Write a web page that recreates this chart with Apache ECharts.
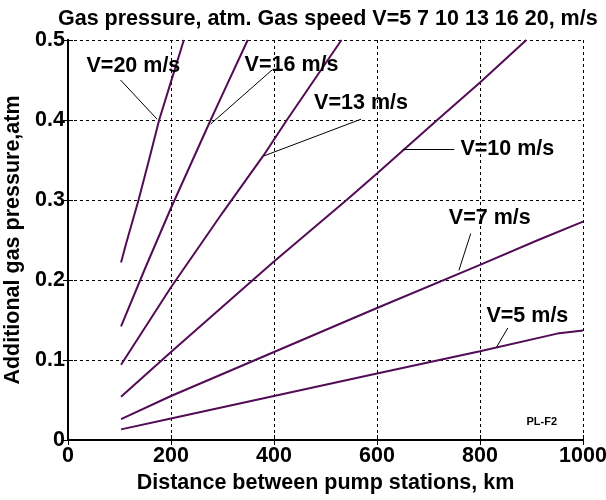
<!DOCTYPE html>
<html>
<head>
<meta charset="utf-8">
<script src="https://cdn.jsdelivr.net/npm/echarts@6/dist/echarts.min.js"></script>
<style>
  html, body { margin: 0; padding: 0; background: #fff; }
  #main { width: 606px; height: 500px; }
</style>
</head>
<body>
<div id="main"></div>
<script>
// distance, km  /  additional pressure, atm
var dist20 = [103, 113, 137, 158, 177, 200, 225];
var pres20 = [0.222, 0.246, 0.300, 0.352, 0.400, 0.448, 0.500];
var dist16 = [103, 150, 200, 277, 300, 349];
var pres16 = [0.142, 0.215, 0.290, 0.400, 0.432, 0.500];
var dist13 = [103, 200, 300, 380, 425, 531];
var pres13 = [0.094, 0.191, 0.284, 0.356, 0.400, 0.500];
var dist10 = [103, 200, 359, 400, 541, 600, 717, 800, 890];
var pres10 = [0.054, 0.110, 0.200, 0.223, 0.300, 0.333, 0.400, 0.447, 0.500];
var dist7 = [103, 200, 400, 600, 800, 913, 1000];
var pres7 = [0.026, 0.055, 0.110, 0.165, 0.219, 0.250, 0.273];
var dist5 = [103, 200, 400, 600, 800, 950, 1000];
var pres5 = [0.0133, 0.027, 0.055, 0.083, 0.111, 0.133, 0.137];

var speedNames = ['V=20 m/s', 'V=16 m/s', 'V=13 m/s', 'V=10 m/s', 'V=7 m/s', 'V=5 m/s'];
// label centre and leader line ends, in data units
var labelAt = [[127, 0.4675], [434, 0.469], [569, 0.421], [853, 0.364], [819, 0.278], [892, 0.155]];
var leaderFrom = [[102, 0.45], [397, 0.463], [569, 0.401], [750, 0.363], [782, 0.258], [854, 0.14]];
var leaderTo = [[173, 0.401], [277, 0.395], [380, 0.355], [650, 0.363], [759, 0.212], [832, 0.116]];

var xTicks = [0, 200, 400, 600, 800, 1000];
var yTicks = [0, 0.1, 0.2, 0.3, 0.4, 0.5];

var font = 'Liberation Sans, Arial, sans-serif';
var lineColor = '#520c56';
var big = 21.5;

function zip(xs, ys) {
    return xs.map(function (x, i) { return [x, ys[i]]; });
}

var curves = [
    zip(dist20, pres20), zip(dist16, pres16), zip(dist13, pres13),
    zip(dist10, pres10), zip(dist7, pres7), zip(dist5, pres5)
];

var series = curves.map(function (pts, i) {
    return {
        name: speedNames[i],
        type: 'line',
        data: pts,
        showSymbol: false,
        symbol: 'none',
        lineStyle: { color: lineColor, width: 2 },
        animation: false,
        markLine: {
            silent: true,
            symbol: ['none', 'none'],
            label: { show: false },
            lineStyle: { color: '#000', width: 1, type: 'solid' },
            data: [[{ coord: leaderFrom[i] }, { coord: leaderTo[i] }]]
        },
        markPoint: {
            silent: true,
            symbol: 'rect',
            symbolSize: 0,
            label: {
                show: true, position: 'inside', formatter: '{b}',
                color: '#000', fontSize: big, fontWeight: 'bold', fontFamily: font
            },
            data: [{ name: speedNames[i], coord: labelAt[i] }]
        }
    };
});

series.push({
    type: 'line',
    data: [],
    markPoint: {
        silent: true,
        symbol: 'rect',
        symbolSize: 0,
        label: {
            show: true, position: 'inside', formatter: '{b}',
            color: '#000', fontSize: 11, fontWeight: 'bold', fontFamily: font
        },
        data: [{ name: 'PL-F2', coord: [920, 0.023] }]
    }
});

var dashed = { show: true, lineStyle: { color: '#000', width: 1, type: [3, 3] } };
var border = { show: true, lineStyle: { color: '#000', width: 2 } };
var inTick = { show: true, inside: true, length: 5, lineStyle: { color: '#000', width: 1 } };

option = {
    backgroundColor: '#fff',
    title: {
        text: 'Gas pressure, atm. Gas speed V=5 7 10 13 16 20, m/s',
        left: 53,
        top: 3,
        textStyle: { fontSize: big, fontWeight: 'bold', color: '#000', fontFamily: font }
    },
    grid: { left: 68, right: 23, top: 40, bottom: 60, outerBoundsMode: 'none', containLabel: false },
    xAxis: [
        {
            type: 'value', min: xTicks[0], max: xTicks[xTicks.length - 1], interval: 200,
            name: 'Distance between pump stations, km',
            nameLocation: 'middle', nameGap: 31,
            nameTextStyle: { fontSize: big, fontWeight: 'bold', color: '#000', fontFamily: font },
            axisLine: border, axisTick: inTick, splitLine: dashed,
            axisLabel: {
                fontSize: big, fontWeight: 'bold', color: '#000', fontFamily: font, margin: 5,
                formatter: function (v) { return String(v); }
            }
        },
        {
            type: 'value', position: 'top', min: 0, max: 1000, interval: 200,
            axisLine: border, axisTick: inTick, splitLine: { show: false },
            axisLabel: { show: false }
        }
    ],
    yAxis: [
        {
            type: 'value', min: yTicks[0], max: yTicks[yTicks.length - 1], interval: 0.1,
            name: 'Additional gas pressure,atm',
            nameLocation: 'middle', nameGap: 37,
            nameTextStyle: { fontSize: big, fontWeight: 'bold', color: '#000', fontFamily: font },
            axisLine: border, axisTick: inTick, splitLine: dashed,
            axisLabel: {
                fontSize: big, fontWeight: 'bold', color: '#000', fontFamily: font, margin: 3,
                formatter: function (v) { return String(v); }
            }
        },
        {
            type: 'value', position: 'right', min: 0, max: 0.5, interval: 0.1,
            axisLine: border, axisTick: inTick, splitLine: { show: false },
            axisLabel: { show: false }
        }
    ],
    series: series
};

var myChart = echarts.init(document.getElementById('main'));
myChart.setOption(option);
</script>
</body>
</html>
